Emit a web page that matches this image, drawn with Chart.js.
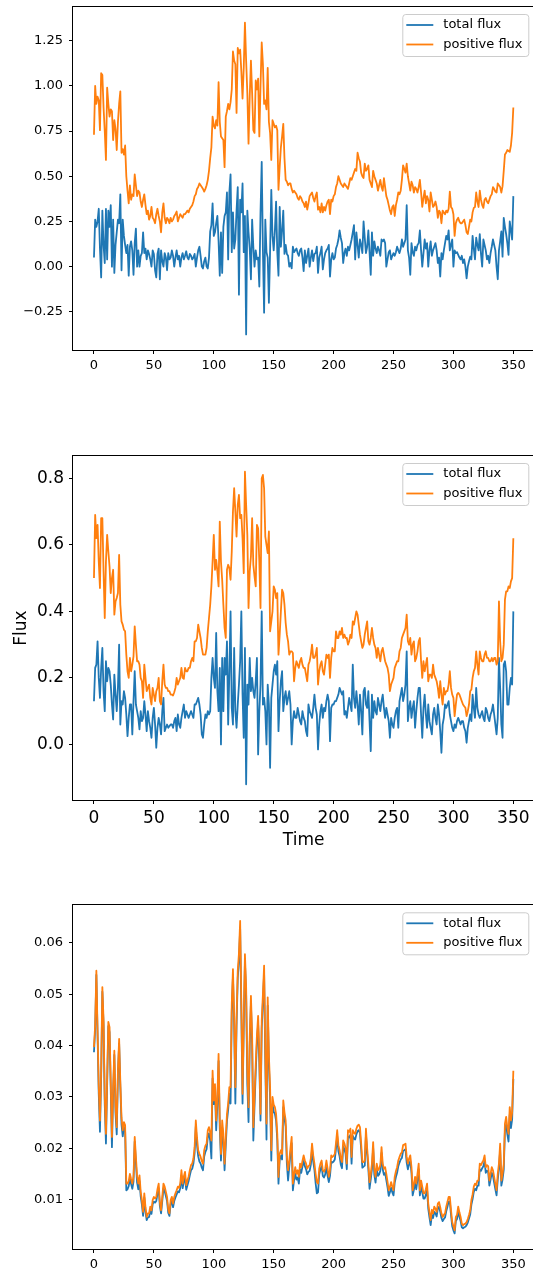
<!DOCTYPE html>
<html>
<head>
<meta charset="utf-8">
<title>Flux</title>
<script src="https://cdn.jsdelivr.net/npm/chart.js@4"></script>
<style>
  html, body { margin: 0; padding: 0; background: #fff; }
  body { width: 533px; height: 1272px; overflow: hidden; position: relative; }
  canvas { position: absolute; left: 0; }
</style>
</head>
<body>
<canvas id="fluxRaw" width="545" height="380" style="top:0px"></canvas>
<canvas id="fluxScaled" width="545" height="440" style="top:420px"></canvas>
<canvas id="fluxNorm" width="545" height="392" style="top:880px"></canvas>
<script>
// one sample per time step, t = 0..350
const rawTotal = [
  .05,.26,.22,.25,.32,.10,-.06,.31,.12,.02,
  .32,.04,.31,.22,.34,.00,.26,-.035,.12,.19,
  .26,.24,.40,-.02,.26,.17,.12,.075,.12,-.05,
  .11,.14,.09,-.045,.13,.21,.00,.09,.00,.06,
  .075,.19,.075,.10,.04,.09,.07,.04,.00,.09,
  .07,-.02,-.06,.07,.10,-.07,.09,.03,.00,.075,
  .05,-.02,.075,.04,.05,.09,.06,.00,.05,.09,
  .04,.06,.00,.05,.075,.04,.06,.085,.05,.04,
  .07,.06,.04,.05,.07,.00,.05,.09,.11,.06,
  .00,-.01,.03,.05,.00,-.01,.05,.195,.23,.35,
  .17,.19,.24,.28,.14,-.05,.19,-.035,.22,.28,
  .30,.41,.04,.41,.51,.08,.30,.10,.15,.31,
  .44,-.155,.37,.30,.46,.08,.28,-.375,.31,.19,
  .10,-.07,.26,.11,.00,.09,.04,.05,-.11,.30,
  .58,.09,-.255,.26,.08,.05,-.20,.09,.425,.17,
  .09,.20,.36,.08,-.05,.33,.11,.20,.31,.07,
  .12,.07,.06,.00,.02,-.01,.11,.08,.09,.10,
  .075,.06,.09,.10,.05,-.025,.09,.02,.06,.10,
  .00,.05,.09,.03,.07,.075,.11,-.035,.05,.075,
  .11,-.015,.04,.075,.09,.10,.12,-.055,.04,.075,
  .04,.05,.10,.12,.15,.20,.16,.13,.02,.075,
  .10,.06,.11,.09,.12,.15,.19,.23,.04,.19,
  .12,.05,.15,.12,.075,.25,.16,.075,.11,.20,
  .08,-.045,.19,.06,.14,.10,.075,.11,.09,.06,
  .15,.14,.15,.13,.00,.04,.08,.09,.04,.06,
  .075,.06,.08,.11,.09,.075,.10,.15,.11,.13,
  .15,.34,.09,.05,-.045,.13,.08,.06,.11,.09,
  .12,.13,.20,.09,.00,.075,.15,.10,.13,.00,
  .09,.14,.06,.09,.11,.13,.09,.02,.05,-.055,
  .075,.04,.09,.13,.17,.15,.20,.09,.12,.15,
  .00,.09,.075,.08,.065,.05,.04,.06,.02,.04,
  .00,-.065,.00,.03,.055,.04,.17,.10,.04,.16,
  .12,.09,.18,.07,.00,.15,.12,.09,.04,.06,
  .02,.075,.11,.15,.12,.09,.00,-.07,.09,.14,
  .195,.055,.27,.22,.18,.13,.065,.25,.20,.15,
  .39
];
const rawPositive = [
  .73,1.00,.90,.94,.92,.755,1.07,1.06,.88,.75,
  .59,.99,.90,.83,.87,.86,.70,.81,.76,.645,
  .80,.90,.97,.63,.65,.62,.67,.50,.42,.35,
  .45,.37,.40,.39,.51,.45,.39,.42,.41,.36,
  .33,.37,.40,.34,.29,.31,.26,.28,.33,.27,
  .26,.24,.29,.32,.28,.25,.19,.30,.35,.27,
  .24,.27,.26,.24,.27,.25,.26,.28,.29,.305,
  .25,.27,.29,.28,.27,.29,.29,.30,.31,.30,
  .32,.33,.34,.36,.39,.40,.43,.44,.46,.45,
  .44,.43,.415,.43,.45,.48,.53,.60,.66,.83,
  .78,.765,.81,.78,1.02,.80,.72,.71,.70,.55,
  .83,.86,.90,.87,.91,.98,1.19,1.14,1.12,.85,
  1.21,1.18,1.20,1.08,.93,1.10,1.35,1.14,.96,.68,
  .94,1.14,.96,.755,.74,1.03,.98,1.04,.72,1.00,
  1.24,1.12,.90,.92,.87,1.10,.80,.74,.59,.81,
  .79,.77,.78,.755,.425,.55,.66,.72,.79,.60,
  .48,.47,.45,.46,.46,.43,.41,.42,.41,.40,
  .38,.37,.39,.38,.36,.35,.33,.36,.315,.35,
  .39,.40,.41,.38,.36,.39,.41,.315,.33,.30,
  .35,.30,.33,.31,.34,.36,.37,.29,.37,.36,
  .39,.40,.44,.46,.50,.48,.46,.45,.44,.46,
  .45,.44,.43,.46,.49,.48,.50,.52,.54,.53,
  .63,.60,.58,.52,.50,.49,.57,.53,.54,.56,
  .48,.46,.44,.53,.50,.48,.46,.42,.45,.48,
  .44,.42,.49,.44,.39,.37,.34,.31,.29,.33,
  .34,.28,.34,.37,.41,.40,.42,.48,.56,.54,
  .52,.57,.50,.46,.42,.47,.45,.41,.44,.43,
  .41,.44,.48,.41,.33,.38,.42,.35,.39,.37,
  .305,.41,.37,.33,.34,.36,.33,.27,.31,.30,
  .24,.31,.30,.29,.31,.30,.32,.415,.33,.32,
  .29,.17,.24,.26,.27,.25,.24,.24,.25,.26,
  .23,.19,.18,.22,.26,.25,.30,.325,.33,.41,
  .36,.33,.42,.37,.34,.325,.37,.38,.36,.35,
  .37,.39,.40,.44,.43,.415,.41,.46,.45,.44,
  .41,.445,.53,.62,.63,.645,.64,.635,.67,.74,
  .88
];
const scaledTotal = [
  .13,.23,.24,.31,.20,.14,.23,.29,.16,.10,
  .25,.19,.23,.22,.18,.12,.075,.21,.15,.10,
  .17,.30,.06,.13,.12,.16,.14,.09,.025,.08,
  .12,.12,.03,.13,.22,.12,.10,.08,.045,.10,
  .07,.08,.13,.09,.04,.10,.07,.05,.02,.08,
  .11,.06,-.01,.05,.08,.06,.03,.10,.14,.04,
  .05,.06,.05,.055,.06,.06,.05,.07,.08,.04,
  .09,.06,.05,.08,.10,.12,.08,.10,.09,.08,
  .09,.10,.09,.08,.12,.12,.13,.14,.12,.09,
  .03,.02,.06,.09,.08,.10,.09,.10,.20,.26,
  .20,.17,.335,.16,.10,.23,.00,.26,.10,.26,
  .21,.31,.06,.22,.40,.11,.06,.29,.10,.05,
  .12,.18,.25,.40,.15,.02,.29,-.12,.18,.12,
  .26,.16,.20,.16,.14,.19,.26,-.03,.10,.18,
  .40,.12,.14,.10,.00,.18,.12,-.07,.14,.18,
  .22,.24,.21,.25,.04,.13,.19,.22,.10,.14,
  .16,.12,.14,.16,.12,.00,.07,.10,.08,.08,
  .11,.09,.07,.06,.10,.08,.07,.04,.025,.12,
  .10,.09,.08,.11,.15,.11,.09,-.015,.06,.10,
  .12,.08,.11,.10,.13,.15,.13,.01,.11,.12,
  .12,.13,.13,.14,.15,.17,.16,.15,.16,.09,
  .10,.08,.11,.14,.12,.10,.24,.14,.11,.16,
  .12,.06,.15,.10,.03,.16,.17,.12,.11,.16,
  .07,-.02,.15,.08,.13,.10,.09,.14,.12,.10,
  .13,.15,.11,.08,.11,.09,.07,.02,.08,.06,
  .05,.08,.10,.11,.05,.13,.15,.17,.13,.15,
  .18,.28,.07,.11,.13,.08,.11,.13,.05,.10,
  .14,.17,.17,.09,.02,.11,.15,.09,.05,.12,
  .07,.05,.03,.09,.11,.08,.06,.12,.09,.04,
  -.025,.06,.08,.12,.11,.12,.13,.09,.07,.05,
  .04,.06,.05,.07,.08,.07,.06,.07,.07,.05,
  .04,.005,.05,.07,.09,.07,.15,.11,.08,.17,
  .11,.09,.08,.09,.10,.08,.07,.11,.10,.08,
  .07,.09,.10,.12,.09,.06,.03,.08,.26,.17,
  .06,.02,.24,.25,.22,.12,.12,.17,.20,.18,
  .40
];
const scaledPositive = [
  .50,.69,.62,.66,.55,.47,.68,.68,.52,.38,
  .55,.63,.58,.535,.455,.50,.525,.39,.43,.44,
  .455,.57,.42,.37,.36,.345,.34,.27,.22,.20,
  .26,.22,.24,.265,.355,.30,.25,.25,.24,.20,
  .19,.14,.24,.20,.16,.17,.18,.14,.12,.17,
  .15,.13,.16,.17,.20,.13,.12,.19,.24,.18,
  .17,.17,.16,.16,.15,.15,.147,.157,.17,.20,
  .18,.19,.20,.23,.20,.197,.23,.22,.22,.23,
  .23,.25,.26,.25,.31,.31,.32,.36,.34,.32,
  .29,.27,.27,.27,.29,.34,.38,.42,.475,.55,
  .63,.525,.555,.52,.475,.67,.55,.495,.42,.35,
  .32,.525,.54,.53,.495,.58,.70,.77,.70,.625,
  .72,.75,.68,.69,.62,.515,.82,.72,.63,.41,
  .52,.565,.68,.54,.505,.475,.66,.65,.55,.41,
  .80,.81,.77,.625,.60,.575,.64,.34,.37,.40,
  .475,.465,.44,.455,.27,.33,.40,.465,.455,.42,
  .365,.33,.31,.27,.28,.28,.275,.19,.23,.25,
  .24,.23,.25,.26,.24,.23,.23,.21,.19,.24,
  .25,.27,.30,.26,.26,.27,.29,.18,.22,.24,
  .25,.22,.21,.24,.27,.26,.27,.20,.26,.29,
  .28,.28,.34,.32,.32,.34,.33,.35,.32,.33,
  .32,.32,.30,.31,.33,.32,.37,.36,.38,.40,
  .39,.36,.33,.31,.29,.30,.33,.35,.37,.31,
  .30,.32,.35,.32,.30,.29,.26,.29,.27,.25,
  .28,.29,.27,.25,.24,.23,.21,.16,.18,.19,
  .20,.23,.24,.25,.25,.28,.29,.32,.33,.34,
  .35,.39,.31,.30,.32,.27,.30,.31,.25,.26,
  .28,.31,.32,.25,.20,.25,.22,.24,.26,.19,
  .21,.21,.20,.24,.21,.20,.19,.17,.14,.19,
  .15,.12,.17,.15,.16,.16,.18,.22,.17,.15,
  .14,.085,.12,.15,.155,.15,.14,.13,.12,.115,
  .11,.085,.10,.12,.16,.165,.20,.22,.23,.28,
  .24,.21,.28,.26,.25,.25,.27,.28,.26,.26,
  .25,.25,.26,.25,.26,.26,.24,.25,.43,.31,
  .25,.26,.30,.435,.46,.46,.475,.47,.49,.50,
  .62
];
const normTotal = [
  .0387,.0432,.0538,.042,.0305,.0232,.0338,.0505,.044,.0285,
  .0209,.0324,.0438,.0426,.0315,.0202,.0308,.0382,.0268,.0227,
  .0342,.0404,.032,.0246,.0223,.0241,.0234,.0118,.012,.0126,
  .0141,.013,.0121,.0135,.0213,.0172,.0133,.012,.0136,.0106,
  .009,.0068,.0104,.0076,.006,.0065,.0066,.0078,.0072,.0091,
  .0096,.0094,.0097,.0111,.0122,.0087,.0073,.0097,.0122,.0116,
  .0107,.0097,.0074,.0068,.0091,.0097,.0085,.0097,.0104,.011,
  .0116,.0114,.0122,.0147,.0122,.0135,.0144,.0119,.0128,.0136,
  .0147,.0157,.016,.017,.0191,.0242,.0206,.0184,.0174,.017,
  .0162,.0157,.0184,.0193,.0198,.0222,.0229,.0215,.018,.0336,
  .0286,.0312,.0235,.0286,.037,.0238,.0176,.024,.0213,.0157,
  .0206,.0253,.0275,.0306,.0287,.0466,.0535,.044,.0287,.044,
  .0532,.0565,.0628,.0466,.0287,.0435,.0563,.0498,.0325,.0251,
  .040,.0482,.0404,.0215,.0283,.0348,.0405,.0442,.0367,.0254,
  .0434,.0485,.0541,.0368,.0217,.0478,.0364,.0296,.0176,.0286,
  .0272,.0267,.0254,.0215,.0131,.0177,.0185,.0178,.028,.0258,
  .0242,.017,.0137,.0164,.0189,.021,.0118,.0138,.015,.0139,
  .0143,.0131,.0159,.0152,.0164,.0175,.0165,.0159,.0149,.0154,
  .0156,.0168,.0198,.0174,.0158,.0132,.0112,.0114,.0149,.0159,
  .0165,.0146,.0143,.0149,.0165,.0146,.0134,.0146,.0174,.0172,
  .0174,.0178,.0199,.0223,.0194,.0184,.0168,.0161,.0204,.0198,
  .0189,.0159,.0223,.0221,.0226,.017,.0224,.0219,.0217,.0227,
  .0233,.0235,.023,.0198,.0162,.0164,.0166,.0227,.0189,.0159,
  .0121,.0139,.0159,.0201,.0148,.0133,.0159,.0146,.0149,.0156,
  .0191,.0159,.0148,.0152,.0138,.0124,.0107,.0114,.0123,.0114,
  .0108,.0133,.0144,.0152,.0165,.0172,.0178,.0181,.0195,.0196,
  .0198,.0172,.0159,.0169,.0175,.0152,.0108,.0119,.0133,.012,
  .0139,.0159,.0108,.0126,.0114,.0102,.0102,.0109,.012,.0082,
  .0065,.005,.007,.0064,.0076,.0073,.0067,.0083,.0086,.0076,
  .0064,.0058,.0062,.0065,.0077,.0086,.0096,.0096,.007,.0048,
  .004,.0034,.0058,.0062,.0077,.0067,.0058,.0046,.0044,.0046,
  .0047,.005,.0055,.0063,.0071,.009,.0101,.0115,.0121,.0118,
  .0127,.0127,.0159,.0156,.0161,.0165,.0175,.0152,.0156,.0154,
  .0127,.0139,.0152,.0146,.0133,.012,.0108,.0139,.0159,.0197,
  .0127,.0139,.0158,.0235,.0246,.0227,.0213,.0265,.0239,.0256,
  .0335
];
const normPositive = [
  .0397,.044,.0546,.043,.032,.0254,.035,.0514,.045,.030,
  .0228,.0335,.0446,.0436,.033,.0222,.0319,.039,.028,.0241,
  .0351,.0413,.033,.0259,.0235,.0251,.0245,.0131,.0131,.0136,
  .015,.014,.0131,.0145,.0222,.0183,.0145,.0131,.0147,.0115,
  .0099,.0076,.0112,.0085,.0066,.0073,.0073,.0086,.0079,.0099,
  .0105,.0102,.0105,.012,.0131,.0095,.0079,.0105,.0131,.0125,
  .0115,.0105,.008,.0073,.0099,.0105,.0092,.0105,.0112,.0118,
  .0125,.0123,.0131,.0157,.0131,.0145,.0154,.0128,.0137,.0145,
  .0157,.0167,.017,.018,.0202,.0254,.022,.0196,.0189,.0183,
  .0175,.017,.0196,.0205,.0209,.0235,.0241,.023,.0215,.0351,
  .0293,.0325,.0254,.030,.0384,.0254,.0189,.0254,.0228,.017,
  .022,.0267,.0287,.0319,.0319,.0481,.0549,.0455,.0319,.0455,
  .0546,.058,.0643,.0481,.0306,.045,.0578,.0514,.035,.028,
  .0416,.0497,.042,.0241,.030,.0364,.042,.0458,.0384,.0267,
  .0449,.050,.0556,.0384,.0248,.0494,.038,.0319,.0196,.030,
  .0285,.028,.0267,.0228,.0144,.0189,.0196,.0189,.0293,.027,
  .0254,.0183,.0157,.0176,.020,.0222,.0131,.015,.0163,.015,
  .0157,.0144,.017,.0163,.0175,.0186,.0176,.017,.016,.0165,
  .0167,.018,.0209,.0186,.017,.015,.0134,.0131,.016,.017,
  .0176,.0157,.0154,.016,.0176,.016,.0144,.0157,.0186,.0183,
  .0185,.0189,.021,.0235,.0206,.0196,.018,.0173,.0215,.0209,
  .020,.017,.0235,.0232,.0238,.0183,.0235,.023,.0228,.0238,
  .0244,.0246,.0241,.0209,.0173,.0173,.0176,.0238,.020,.017,
  .0134,.015,.017,.0212,.016,.0144,.017,.0157,.016,.0167,
  .0202,.017,.016,.0163,.015,.0135,.0118,.0125,.0134,.0125,
  .0118,.0144,.0155,.0163,.0176,.0183,.0189,.0192,.0206,.0207,
  .0209,.0183,.017,.018,.0186,.0163,.0118,.013,.0144,.0131,
  .015,.017,.0118,.0137,.0125,.0112,.0112,.012,.0131,.0092,
  .0075,.006,.008,.0073,.0086,.0082,.0076,.0092,.0095,.0085,
  .0073,.0066,.007,.0073,.0086,.0095,.0105,.0105,.0079,.0056,
  .0048,.004,.0066,.007,.0086,.0075,.0066,.0053,.005,.0052,
  .0053,.0056,.0062,.007,.0079,.0099,.011,.0125,.0131,.0128,
  .0137,.0137,.017,.0167,.0172,.0176,.0186,.0163,.0167,.0165,
  .0137,.015,.0163,.0157,.0144,.013,.0118,.015,.017,.0209,
  .0137,.015,.0169,.0248,.0261,.024,.0228,.028,.0254,.027,
  .0351
];

const seriesLabels = ["total flux", "positive flux"];
const seriesColors = ["#1f77b4", "#ff7f0e"];
const timeTicks = [0, 50, 100, 150, 200, 250, 300, 350];
const rawTicks = [-0.25, 0, 0.25, 0.5, 0.75, 1.0, 1.25];
const scaledTicks = [0, 0.2, 0.4, 0.6, 0.8];
const normTicks = [0.01, 0.02, 0.03, 0.04, 0.05, 0.06];

const FONT = "'DejaVu Sans', 'Liberation Sans', sans-serif";

function toPoints(values) {
  return values.map((v, i) => ({ x: i, y: v }));
}

// matplotlib-style autoscale: data limits plus 5% on each side
function paddedRange(a, b) {
  var lo = Math.min(...a, ...b);
  var hi = Math.max(...a, ...b);
  var pad = (hi - lo) * 0.05;
  return [lo - pad, hi + pad];
}

function fmt(v, digits) {
  var s = Math.abs(v).toFixed(digits);
  return v < 0 ? "\u2212" + s : s;
}

// full box around the plot area plus a framed legend in the upper right
const boxAndLegend = {
  id: "boxAndLegend",
  afterDraw(chart) {
    const ctx = chart.ctx;
    const a = chart.chartArea;
    ctx.save();
    ctx.strokeStyle = "#000";
    ctx.lineWidth = 1;
    ctx.strokeRect(Math.round(a.left) - 0.5, Math.round(a.top) - 0.5,
      Math.round(a.right - a.left) + 1, Math.round(a.bottom - a.top) + 1);

    const w = 126, h = 42;
    const x0 = a.right - 6 - w, y0 = a.top + 7;
    ctx.beginPath();
    ctx.roundRect(x0 + 0.5, y0 + 0.5, w, h, 3);
    ctx.fillStyle = "rgba(255,255,255,0.8)";
    ctx.fill();
    ctx.strokeStyle = "#cccccc";
    ctx.stroke();

    ctx.font = "13px " + FONT;
    ctx.textBaseline = "middle";
    ctx.textAlign = "left";
    chart.data.datasets.forEach((ds, i) => {
      const yy = y0 + 11 + i * 19.5;
      ctx.strokeStyle = ds.borderColor;
      ctx.lineWidth = 1.8;
      ctx.beginPath();
      ctx.moveTo(x0 + 4, yy);
      ctx.lineTo(x0 + 31, yy);
      ctx.stroke();
      ctx.fillStyle = "#000";
      ctx.fillText(ds.label, x0 + 41, yy);
    });
    ctx.restore();
  }
};

function buildConfig(total, positive, o) {
  var yr = paddedRange(total, positive);
  var tickFont = { family: FONT, size: o.fontSize };
  var scales = {
    x: {
      type: "linear",
      min: -17.5,
      max: 367.5,
      afterBuildTicks: (axis) => { axis.ticks = timeTicks.map(v => ({ value: v })); },
      afterFit: (axis) => {
        axis.height = o.xHeight;
        axis.paddingLeft = 0;
        axis.paddingRight = 0;
      },
      grid: { drawOnChartArea: false, drawTicks: true, tickLength: 4, color: "#000" },
      border: { display: false },
      ticks: {
        font: tickFont, color: "#000", padding: o.xPad,
        maxRotation: 0, autoSkip: false,
        callback: (v) => String(v)
      }
    },
    y: {
      type: "linear",
      min: yr[0],
      max: yr[1],
      afterBuildTicks: (axis) => { axis.ticks = o.yTicks.map(v => ({ value: v })); },
      afterFit: (axis) => {
        axis.width = 73;
        axis.paddingTop = 0;
        axis.paddingBottom = 0;
      },
      grid: { drawOnChartArea: false, drawTicks: true, tickLength: 4, color: "#000" },
      border: { display: false },
      ticks: {
        font: tickFont, color: "#000", padding: o.yPad,
        callback: (v) => fmt(v, o.digits)
      }
    }
  };
  if (o.xTitle) {
    scales.x.title = { display: true, text: o.xTitle, color: "#000",
      font: { family: FONT, size: o.fontSize }, padding: { top: 0, bottom: 9 } };
    scales.y.title = { display: true, text: o.yTitle, color: "#000",
      font: { family: FONT, size: o.fontSize }, padding: { top: 11, bottom: 0 } };
  }
  return {
    type: "line",
    data: {
      datasets: [
        { label: seriesLabels[0], data: toPoints(total), borderColor: seriesColors[0], order: 1 },
        { label: seriesLabels[1], data: toPoints(positive), borderColor: seriesColors[1], order: 0 }
      ]
    },
    options: {
      responsive: false,
      animation: false,
      devicePixelRatio: 1,
      layout: { padding: { top: o.padTop, right: 10.7, left: 0, bottom: 0 } },
      elements: {
        line: { borderWidth: 1.8, tension: 0, fill: false, borderJoinStyle: "round" },
        point: { radius: 0 }
      },
      plugins: { legend: { display: false }, tooltip: { enabled: false } },
      scales: scales
    },
    plugins: [boxAndLegend]
  };
}

var rawChart = new Chart(document.getElementById("fluxRaw"),
  buildConfig(rawTotal, rawPositive, {
    yTicks: rawTicks, digits: 2, fontSize: 13, padTop: 7, xHeight: 30, xPad: 4, yPad: 6
  }));

var scaledChart = new Chart(document.getElementById("fluxScaled"),
  buildConfig(scaledTotal, scaledPositive, {
    yTicks: scaledTicks, digits: 1, fontSize: 17, padTop: 36, xHeight: 60, xPad: 4, yPad: 5,
    xTitle: "Time", yTitle: "Flux"
  }));

var normChart = new Chart(document.getElementById("fluxNorm"),
  buildConfig(normTotal, normPositive, {
    yTicks: normTicks, digits: 2, fontSize: 13, padTop: 25.3, xHeight: 23, xPad: 4, yPad: 6
  }));
</script>
</body>
</html>
